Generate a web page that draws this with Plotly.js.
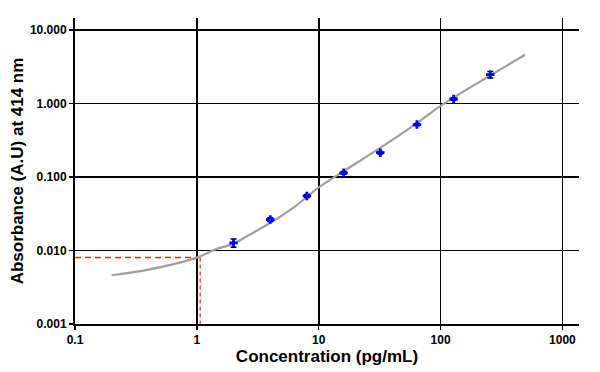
<!DOCTYPE html>
<html>
<head>
<meta charset="utf-8">
<script src="https://cdn.plot.ly/plotly-3.0.1.min.js"></script>
<style>html,body{margin:0;padding:0;background:#fff;}#chart{width:600px;height:372px;}</style>
</head>
<body>
<div id="chart"></div>
<script>
// Standards (measured points)
const concentration = [2, 4, 8, 16, 32, 64, 128, 256];
const absorbance    = [0.0127, 0.0264, 0.0552, 0.114, 0.214, 0.517, 1.15, 2.47];
const absorbanceErr = [0.0016, 0.0016, 0.0025, 0.005, 0.009, 0.018, 0.04, 0.25];

// Fitted standard curve
const fitX = [0.2, 0.4, 1, 1.41, 2.03, 2.64, 4.05, 6.37, 10, 16, 30.6, 64, 100, 494];
const fitY = [0.0046, 0.0055, 0.0080, 0.0103, 0.0125, 0.016, 0.024, 0.0395, 0.072, 0.12, 0.237, 0.54, 0.93, 4.6];

// Detection limit guide
const lodX = [0.1, 1.065, 1.065];
const lodY = [0.008, 0.008, 0.001];

const xTickVals = [0.1, 1, 10, 100, 1000];
const xTickText = ["0.1", "1", "10", "100", "1000"];
const yTickVals = [0.001, 0.01, 0.1, 1, 10];
const yTickText = ["0.001", "0.010", "0.100", "1.000", "10.000"];

const font = "Liberation Sans, Arial, sans-serif";

const traces = [
  {
    x: lodX.slice(0, 2), y: lodY.slice(0, 2), mode: "lines", type: "scatter",
    line: {color: "#ff2020", width: 1.5, dash: "6px,4px"}, hoverinfo: "skip", showlegend: false
  },
  {
    x: lodX.slice(1), y: lodY.slice(1), mode: "lines", type: "scatter",
    line: {color: "#ff3030", width: 1.3, dash: "4px,3px"}, hoverinfo: "skip", showlegend: false
  },
  {
    x: fitX, y: fitY, mode: "lines", type: "scatter",
    line: {color: "#a0a0a0", width: 2.2, shape: "spline", smoothing: 0.8}, showlegend: false
  },
  {
    x: concentration, y: absorbance, mode: "markers", type: "scatter",
    marker: {color: "#0000ff", size: 7, symbol: "cross"},
    error_y: {type: "data", array: absorbanceErr, visible: true, color: "#000000", thickness: 1.5, width: 3},
    showlegend: false
  }
];

const layout = {
  width: 600, height: 372,
  margin: {l: 75, r: 21, t: 18, b: 48},
  paper_bgcolor: "#ffffff", plot_bgcolor: "#ffffff",
  showlegend: false,
  font: {family: font, color: "#000"},
  xaxis: {
    type: "log", range: [-1, 3.136],
    tickvals: xTickVals, ticktext: xTickText,
    ticks: "outside", ticklen: 4, tickwidth: 1.5, tickcolor: "#000",
    showgrid: true, gridcolor: "#000", gridwidth: 1.8,
    showline: true, linecolor: "#000", linewidth: 2,
    zeroline: false,
    tickfont: {family: font, size: 12, color: "#000", weight: "bold"},
    title: {text: "<b>Concentration (pg/mL)</b>", font: {family: font, size: 17, color: "#000"}, standoff: 1}
  },
  yaxis: {
    type: "log", range: [-3, 1.163],
    tickvals: yTickVals, ticktext: yTickText,
    ticks: "outside", ticklen: 4, tickwidth: 1.5, tickcolor: "#000",
    showgrid: true, gridcolor: "#000", gridwidth: 1.8,
    showline: true, linecolor: "#000", linewidth: 2,
    zeroline: false,
    tickfont: {family: font, size: 12, color: "#000", weight: "bold"},
    title: {text: "<b>Absorbance (A.U) at 414 nm</b>", font: {family: font, size: 17, color: "#000"}, standoff: 2}
  }
};

Plotly.newPlot("chart", traces, layout, {displayModeBar: false, staticPlot: true});
</script>
</body>
</html>
